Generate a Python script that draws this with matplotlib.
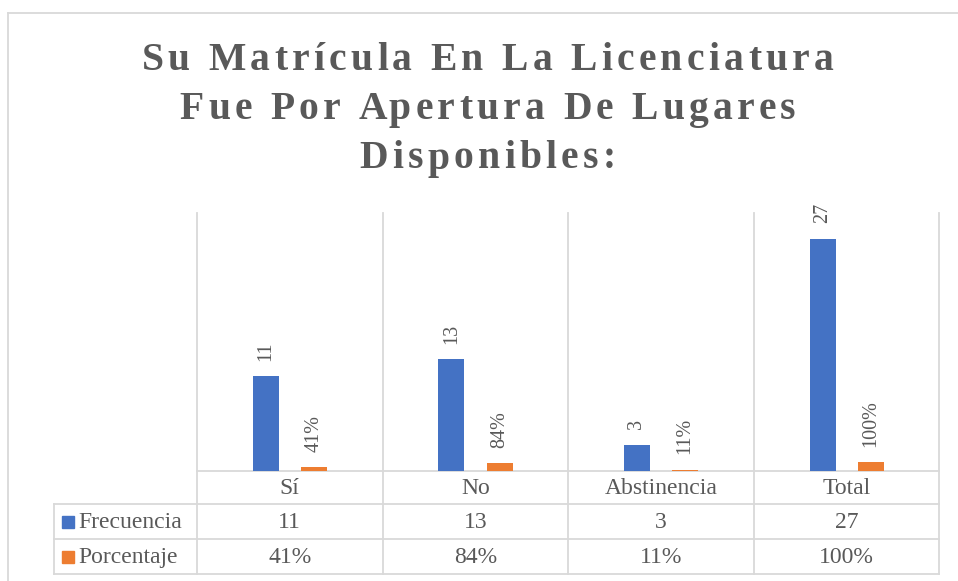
import matplotlib
matplotlib.use("Agg")
import matplotlib.pyplot as plt
from matplotlib.font_manager import FontProperties
from matplotlib.patches import Rectangle

categorias = ["Sí", "No", "Abstinencia", "Total"]
frecuencia = [11, 13, 3, 27]
porcentaje = [0.41, 0.84, 0.11, 1.00]
series = ["Frecuencia", "Porcentaje"]
titulo = ["Su Matrícula En La Licenciatura",
          "Fue Por Apertura De Lugares",
          "Disponibles:"]

azul = "#4472C4"
naranja = "#ED7D31"
gris_txt = "#595959"
gris_linea = "#d9d9d9"
W, H = 958, 581

plt.rcParams['font.family'] = ['Liberation Serif', 'DejaVu Serif']

fig = plt.figure(figsize=(W / 100, H / 100), dpi=100)

# capa en pixeles para bordes, tabla y titulo
px = fig.add_axes([0, 0, 1, 1], zorder=0)
px.set_xlim(0, W)
px.set_ylim(H, 0)
px.axis("off")

# area de graficos
x0, x1, ytop, ybase = 197, 939.5, 213, 470.5
ax = fig.add_axes([x0 / W, 1 - ybase / H, (x1 - x0) / W, (ybase - ytop) / H], zorder=1)
ax.set_facecolor("none")
ax.set_xlim(0, len(categorias))
ax.set_ylim(0, 30)
for s in ax.spines.values():
    s.set_visible(False)
ax.set_xticks([])
ax.set_yticks([])

pos = [i + 0.5 for i in range(len(categorias))]
ancho = 0.14
desp = 0.13
b1 = ax.bar([p - desp for p in pos], frecuencia, ancho, color=azul, zorder=2)
b2 = ax.bar([p + desp for p in pos], porcentaje, ancho, color=naranja, zorder=2)

for rect, v in zip(b1, frecuencia):
    ax.annotate(str(v), (rect.get_x() + rect.get_width() / 2, rect.get_height()),
                xytext=(0, 11), textcoords="offset points", rotation=90,
                ha="center", va="bottom", fontsize=14.5, color=gris_txt)
for rect, v in zip(b2, porcentaje):
    ax.annotate(f"{v:.0%}", (rect.get_x() + rect.get_width() / 2, rect.get_height()),
                xytext=(0, 11), textcoords="offset points", rotation=90,
                ha="center", va="bottom", fontsize=14.5, color=gris_txt)

# posiciones de columnas en pixeles
def col_px(x):
    return ax.transData.transform((x, 0))[0]

bordes = [col_px(i) for i in range(len(categorias) + 1)]
centros = [col_px(p) for p in pos]

lw = 1.3
# borde exterior del grafico
px.plot([8, W], [12.5, 12.5], color=gris_linea, lw=lw)
px.plot([8, 8], [12.5, H], color=gris_linea, lw=lw)

# rejilla vertical y tabla de datos
filas_y = [ybase, 504, 538.5, 574]
tabla_izq = 54
for i, bx in enumerate(bordes):
    px.plot([bx, bx], [ytop, filas_y[-1]], color=gris_linea, lw=lw, zorder=0)
px.plot([tabla_izq, tabla_izq], [filas_y[1], filas_y[-1]], color=gris_linea, lw=lw)
px.plot([bordes[0], bordes[-1]], [filas_y[0], filas_y[0]], color=gris_linea, lw=lw)
for fy in filas_y[1:]:
    px.plot([tabla_izq, bordes[-1]], [fy, fy], color=gris_linea, lw=lw)

fs_tabla = 17
for c, cat in zip(centros, categorias):
    px.text(c, (filas_y[0] + filas_y[1]) / 2 + 1, cat, ha="center", va="center",
            fontsize=fs_tabla, color=gris_txt)
filas = [[str(v) for v in frecuencia], [f"{v:.0%}" for v in porcentaje]]
for k, (nombre, col, vals) in enumerate(zip(series, [azul, naranja], filas)):
    yc = (filas_y[k + 1] + filas_y[k + 2]) / 2 + 1
    px.add_patch(Rectangle((62, yc - 6.5), 12, 12, color=col))
    px.text(78, yc, nombre, ha="left", va="center", fontsize=fs_tabla, color=gris_txt)
    for c, t in zip(centros, vals):
        px.text(c, yc, t, ha="center", va="center", fontsize=fs_tabla, color=gris_txt)

# titulo con espaciado entre letras
fp = FontProperties(family="Liberation Serif", weight="bold", size=28.5)
renderer = fig.canvas.get_renderer()


def ancho_txt(s):
    if not s:
        return 0.0
    w = renderer.get_text_width_height_descent(s + "H", fp, ismath=False)[0]
    return w - renderer.get_text_width_height_descent("H", fp, ismath=False)[0]


def texto_espaciado(s, cx, by, esp):
    total = ancho_txt(s) + esp * (len(s) - 1)
    xi = cx - total / 2
    for i, ch in enumerate(s):
        x = xi + ancho_txt(s[:i]) + esp * i
        px.text(x, by, ch, fontproperties=fp, color=gris_txt, ha="left", va="baseline")


for linea, by in zip(titulo, [69.5, 119, 168.5]):
    texto_espaciado(linea, 487.5, by, 4.3)

fig.savefig("out.png", dpi=100)
